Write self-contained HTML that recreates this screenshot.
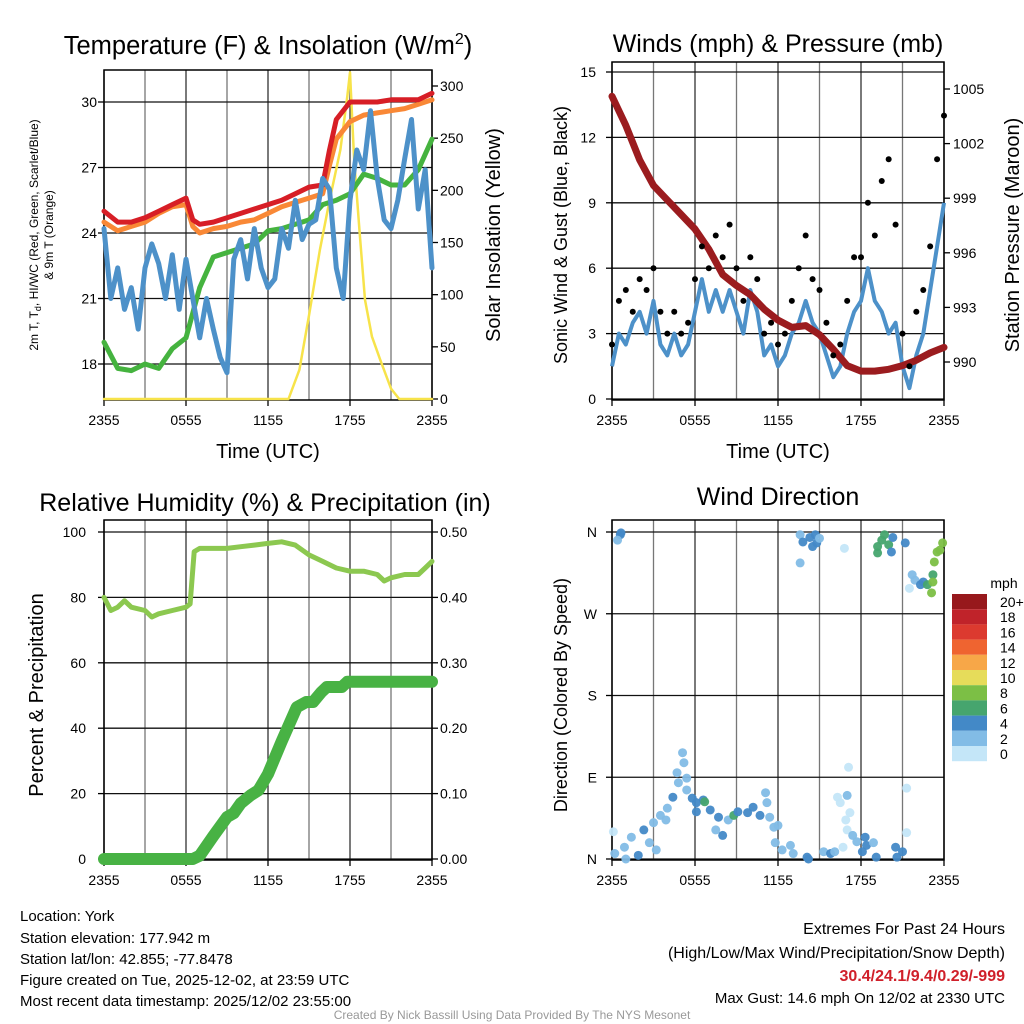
<!DOCTYPE html>
<html><head><meta charset="utf-8">
<style>
html,body{margin:0;padding:0;background:#fff;}
svg{display:block;font-family:"Liberation Sans",Arial,sans-serif;}
</style></head>
<body>
<svg id="c" width="1024" height="1024" viewBox="0 0 1024 1024" xmlns="http://www.w3.org/2000/svg">
<g id="g1"></g>
<g id="g2"></g>
<g id="g3"></g>
<g id="g4"></g>
<g id="info" font-size="15" fill="#000">
<text x="20" y="921">Location: York</text>
<text x="20" y="943">Station elevation: 177.942 m</text>
<text x="20" y="964">Station lat/lon: 42.855; -77.8478</text>
<text x="20" y="985">Figure created on Tue, 2025-12-02, at 23:59 UTC</text>
<text x="20" y="1006">Most recent data timestamp: 2025/12/02 23:55:00</text>
</g>
<g id="ext" font-size="16" text-anchor="end">
<text x="1005" y="934">Extremes For Past 24 Hours</text>
<text x="1005" y="958">(High/Low/Max Wind/Precipitation/Snow Depth)</text>
<text x="1005" y="981" fill="#d0202a" font-weight="bold">30.4/24.1/9.4/0.29/-999</text>
<text x="1005" y="1003" font-size="15">Max Gust: 14.6 mph On 12/02 at 2330 UTC</text>
</g>
<text x="512" y="1019" text-anchor="middle" font-size="12" fill="#999">Created By Nick Bassill Using Data Provided By The NYS Mesonet</text>
</svg>
<script>
// ---------- DATA ----------
const timeTicks = ["2355","0555","1155","1755","2355"];
const tTemp = [0,1,2,3,4,5,6,6.5,7,8,9,10,11,12,13,14,15,16,16.5,17,18,19,20,21,22,23,24];
const tempRed = [25.0,24.5,24.5,24.7,25.0,25.3,25.6,24.6,24.4,24.5,24.7,24.9,25.1,25.3,25.5,25.8,26.1,26.2,27.8,29.2,30.0,30.0,30.0,30.1,30.1,30.1,30.4];
const temp9m = [24.5,24.1,24.3,24.5,24.9,25.2,25.3,24.3,24.0,24.2,24.3,24.5,24.6,24.9,25.2,25.4,25.6,25.8,27.1,28.3,29.1,29.4,29.5,29.6,29.7,29.9,30.1];
const tHourly = [0,1,2,3,4,5,6,7,8,9,10,11,12,13,14,15,16,17,18,19,20,21,22,23,24];
const dewpoint = [19.0,17.8,17.7,18.0,17.8,18.7,19.2,21.5,22.9,23.1,23.3,23.5,24.1,24.2,24.4,24.6,25.3,25.5,25.8,26.7,26.5,26.2,26.2,26.9,28.3];
const tHalf = [0,0.5,1,1.5,2,2.5,3,3.5,4,4.5,5,5.5,6,6.5,7,7.5,8,8.5,9,9.5,10,10.5,11,11.5,12,12.5,13,13.5,14,14.5,15,15.5,16,16.5,17,17.5,18,18.5,19,19.5,20,20.5,21,21.5,22,22.5,23,23.5,24];
const windChill = [24.2,21.0,22.4,20.5,21.5,19.6,22.4,23.5,22.6,21.0,23.0,20.5,22.8,21.0,19.2,21.0,19.6,18.3,17.6,22.8,23.7,21.9,24.2,22.4,21.5,21.9,24.2,23.3,25.5,23.7,24.4,24.6,26.5,26.0,22.4,21.0,25.5,27.8,26.9,29.6,26.5,24.6,24.2,25.5,27.4,29.2,25.1,26.9,22.4];
const tSolar = [0,13.5,14.3,15,15.8,16.5,17.3,17.8,18,18.3,18.7,19.1,19.6,20.2,21,21.6,24];
const solar = [0,0,28,80,143,190,239,290,313,230,160,95,60,38,10,0,0];
const tempTicks = [18,21,24,27,30];
const solarTicks = [0,50,100,150,200,250,300];

const windSpeed = [1.5,3,2.5,3.5,4,3,4.5,2.5,2,3,2,2.5,4,5.5,4,5,4,5,4,3,5,4,2,2.5,1.5,2,3,3.5,4.5,3.5,3,2,1,1.5,3,4,4.5,6,4.5,4,3,3.5,1.5,0.5,2,3,5,7,9];
const windGust = [2.5,4.5,5,4,5.5,5,6,4,3,4,3,3.5,5.5,7,6,7.5,6.5,8,6,4.5,6.5,5.5,3,3.5,2.5,3,4.5,6,7.5,5.5,5,3.5,2,2.5,4.5,6.5,6.5,9,7.5,10,11,8,3,1.5,4,5,7,11,13];
const pressure = [1004.6,1003.0,1001.1,999.7,998.9,998.1,997.3,996.2,994.8,994.2,993.7,992.9,992.3,991.9,992.0,991.5,990.7,989.8,989.5,989.5,989.6,989.8,990.1,990.5,990.8];
const windTicks = [0,3,6,9,12,15];
const presTicks = [990,993,996,999,1002,1005];

const tRH = [0,0.5,1,1.5,2,3,3.5,4,5,6,6.3,6.6,7,8,9,10,11,12,13,14,15,16,17,18,19,20,20.5,21,22,23,23.5,24];
const rh = [80,76,77,79,77,76,74,75,76,77,78,94,95,95,95,95.5,96,96.5,97,96,93,91,89,88,88,87,85,86,87,87,89,91];
const tPrecip = [0,6.5,7,8,9,9.5,10,10.7,11.3,12,13,14.1,14.8,15.3,15.9,16.3,17.4,17.8,24];
const precip = [0,0,0.005,0.035,0.064,0.07,0.085,0.097,0.105,0.13,0.18,0.232,0.24,0.24,0.255,0.263,0.263,0.271,0.271];
const rhTicks = [0,20,40,60,80,100];
const precipTicks = ["0.00","0.10","0.20","0.30","0.40","0.50"];

const dirTime = [0.2,0.1,1.0,0.9,1.4,1.9,2.3,2.7,3.0,3.2,3.5,3.9,4.0,4.4,4.8,4.7,5.1,5.2,5.4,5.4,5.8,6.1,6.1,6.6,6.7,7.1,7.5,7.7,8.0,8.4,8.8,9.1,9.8,10.2,10.7,11.1,11.2,11.4,11.7,12.0,11.8,12.3,12.9,13.1,14.1,14.2,15.3,15.8,16.1,16.7,16.3,16.5,17.0,17.1,16.9,17.2,17.0,17.4,17.7,18.3,18.4,18.1,18.9,19.1,20.5,20.6,21.0,21.3,21.3,0.6,0.65,0.4,13.6,13.6,13.8,14.3,14.7,14.8,15.0,14.5,16.8,19.2,19.2,19.5,19.7,20.0,20.2,20.3,21.2,21.7,21.5,21.9,22.3,22.5,22.8,23.2,23.1,23.2,23.3,23.5,23.7,23.9];
const dirDeg = [6,30,0,13,24,4,32,18,40,10,48,43,56,68,84,95,117,106,89,76,67,62,52,65,63,54,32,46,26,43,48,52,51,57,48,73,62,46,35,37,18,10,15,6,2,0,8,6,8,13,68,62,70,101,43,51,32,26,19,24,15,8,18,2,13,2,8,29,78,357,359,351,357,326,349,354,357,348,353,344,342,344,337,351,357,346,338,354,348,313,298,307,302,305,302,313,293,305,327,338,340,348];
const dirSpeed = [3,1,2,2,2,4,4,2,2,2,2,2,2,4,2,2,2,2,2,2,4,4,4,4,6,4,2,4,4,2,6,4,4,4,4,2,2,2,2,2,2,2,2,2,4,4,2,4,2,1,1,1,2,1,1,1,1,2,2,4,4,4,2,4,4,4,4,1,1,4,4,2,2,2,4,4,4,4,2,4,1,6,6,6,6,6,4,4,4,2,1,2,4,4,6,6,8,8,8,8,8,8];
const dirTickLabels = ["N","E","S","W","N"];
const speedLabels = ["20+","18","16","14","12","10","8","6","4","2","0"];
const speedColors = ["#c4e6f8","#82bce6","#4389c7","#46a56e","#7cbf45","#e6dc5a","#f7a748","#ef6430","#dc3a2f","#c0232a","#97181c"];

// ---------- HELPERS ----------
const NS = "http://www.w3.org/2000/svg";
function mk(parent, tag, attrs, text){
  const el = document.createElementNS(NS, tag);
  for (const k in attrs) el.setAttribute(k, attrs[k]);
  if (text !== undefined) el.textContent = text;
  parent.appendChild(el);
  return el;
}
function lin(d0,d1,r0,r1){ return v => r0 + (v-d0)/(d1-d0)*(r1-r0); }
function pathD(xs, ys, xf, yf){
  return xs.map((t,i)=>(i?"L":"M")+xf(t).toFixed(1)+","+yf(ys[i]).toFixed(1)).join("");
}
function frame(g, x0, x1, y0, y1, xf, hLines){
  for (let h=0; h<=24; h+=3){
    const gl = mk(g,"line",{x1:xf(h),x2:xf(h),y1:y0,y2:y1,stroke:(h%6===0)?"#333":"#777","stroke-width":1.3});
    
    
  }
  hLines.forEach(y=>{
    const hl = mk(g,"line",{x1:x0,x2:x1,y1:y,y2:y,stroke:"#111","stroke-width":1.3});
    
    
  });
  const b = mk(g,"rect",{x:x0,y:y0,width:x1-x0,height:y1-y0,fill:"none",stroke:"#000","stroke-width":1.5});
  
  
  timeTicks.forEach((lab,i)=>{
    const x = xf(i*6);
    const tk = mk(g,"line",{x1:x,x2:x,y1:y1,y2:y1+6,stroke:"#000","stroke-width":1.3});
    
    
    const tl = mk(g,"text",{x:x,y:y1+25,"text-anchor":"middle","font-size":14},lab);
    
    
  });
}
function yLabels(g, vals, labels, yf, x, anchor, tickX, tickDir){
  vals.forEach((v,i)=>{
    const y = yf(v);
    const t = mk(g,"text",{x:x,y:y+5,"text-anchor":anchor,"font-size":14},labels[i]);
    
    
    const tk = mk(g,"line",{x1:tickX,x2:tickX+tickDir*6,y1:y,y2:y,stroke:"#000","stroke-width":1.3});
    
    
  });
}
function title(g, x, y, txt, size, rot, nm){
  const t = mk(g,"text",{x:x,y:y,"text-anchor":"middle","font-size":size, transform: rot?`rotate(-90 ${x} ${y})`:""},txt);
  
  
  return t;
}

// ---------- PANEL 1 ----------
(function(){
  const g = document.getElementById("g1");
  const x0=104,x1=432,y0=70,y1=400;
  const xf = lin(0,24,x0,x1);
  const yT = lin(30,18,102,364);
  const yS = lin(0,300,399,86);
  frame(g,x0,x1,y0,y1,xf,tempTicks.map(yT));
  yLabels(g,tempTicks,tempTicks.map(String),yT,97,"end",x0,-1);
  yLabels(g,solarTicks,solarTicks.map(String),yS,440,"start",x1,1);
  const series = [
    [tSolar,solar,yS,"#f7e34a",2.5,"solar-line"],
    [tHourly,dewpoint,yT,"#45b33f",5,"dewpoint-line"],
    [tTemp,temp9m,yT,"#f98836",5,"temp-9m-line"],
    [tTemp,tempRed,yT,"#d71e26",5,"temp-2m-line"],
    [tHalf,windChill,yT,"#4d91c9",5,"windchill-line"]
  ];
  series.forEach(s=>{
    const p = mk(g,"path",{d:pathD(s[0],s[1],xf,s[2]),fill:"none",stroke:s[3],"stroke-width":s[4],"stroke-linejoin":"round","stroke-linecap":"round"});
    
    
  });
  const tt = mk(g,"text",{x:268,y:54,"text-anchor":"middle","font-size":25.5});
  tt.innerHTML = 'Temperature (F) &amp; Insolation (W/m<tspan dy="-10" font-size="16">2</tspan><tspan dy="10">)</tspan>';
  
  
  title(g,268,458,"Time (UTC)",20,false,"x-axis-title");
  const yl = mk(g,"text",{x:38,y:235,"text-anchor":"middle","font-size":12,transform:"rotate(-90 38 235)"});
  yl.innerHTML = '2m T, T<tspan dy="3" font-size="9">d</tspan><tspan dy="-3">, HI/WC (Red, Green, Scarlet/Blue)</tspan>';
  
  
  title(g,53,235,"& 9m T (Orange)",12,true,"temperature-y-title-2");
  title(g,500,235,"Solar Insolation (Yellow)",20,true,"solar-y-title");
})();

// ---------- PANEL 2 ----------
(function(){
  const g = document.getElementById("g2");
  const x0=612,x1=944,y0=62,y1=400;
  const xf = lin(0,24,x0,x1);
  const yW = lin(0,15,399,72);
  const yP = lin(1005,990,89,362);
  frame(g,x0,x1,y0,y1,xf,windTicks.map(yW));
  yLabels(g,windTicks,windTicks.map(String),yW,596,"end",x0,-1);
  yLabels(g,presTicks,presTicks.map(String),yP,953,"start",x1,1);
  const wl = mk(g,"path",{d:pathD(tHalf,windSpeed,xf,yW),fill:"none",stroke:"#4d91c9","stroke-width":4,"stroke-linejoin":"round"});
  
  
  const pl = mk(g,"path",{d:pathD(tHourly,pressure,xf,yP),fill:"none",stroke:"#9b1c1f","stroke-width":7,"stroke-linejoin":"round","stroke-linecap":"round"});
  
  
  tHalf.forEach((t,i)=>{
    const c = mk(g,"circle",{cx:xf(t),cy:yW(windGust[i]),r:3,fill:"#000"});
    
    
  });
  title(g,778,52,"Winds (mph) & Pressure (mb)",25,false,"wind-title");
  title(g,778,458,"Time (UTC)",20,false,"x-axis-title");
  title(g,567,235,"Sonic Wind & Gust (Blue, Black)",18,true,"wind-y-title");
  title(g,1019,235,"Station Pressure (Maroon)",20,true,"pressure-y-title");
})();

// ---------- PANEL 3 ----------
(function(){
  const g = document.getElementById("g3");
  const x0=104,x1=432,y0=520,y1=860;
  const xf = lin(0,24,x0,x1);
  const yR = lin(0,100,859,532);
  const yPr = lin(0,0.5,859,532);
  frame(g,x0,x1,y0,y1,xf,rhTicks.map(yR));
  yLabels(g,rhTicks,rhTicks.map(String),yR,86,"end",x0,-1);
  yLabels(g,precipTicks.map(Number),precipTicks,yPr,440,"start",x1,1);
  const pr = mk(g,"path",{d:pathD(tPrecip,precip,xf,yPr),fill:"none",stroke:"#48b244","stroke-width":12,"stroke-linejoin":"round","stroke-linecap":"round"});
  
  
  const rl = mk(g,"path",{d:pathD(tRH,rh,xf,yR),fill:"none",stroke:"#8cc850","stroke-width":5,"stroke-linejoin":"round","stroke-linecap":"round"});
  
  
  title(g,265,511,"Relative Humidity (%) & Precipitation (in)",25,false,"humidity-title");
  title(g,43,695,"Percent & Precipitation",20,true,"rh-y-title");
})();

// ---------- PANEL 4 ----------
(function(){
  const g = document.getElementById("g4");
  const x0=612,x1=944,y0=520,y1=860;
  const xf = lin(0,24,x0,x1);
  const yD = lin(0,360,859,532);
  frame(g,x0,x1,y0,y1,xf,[0,90,180,270,360].map(yD));
  yLabels(g,[0,90,180,270,360],dirTickLabels,yD,597,"end",x0,-1);
  dirTime.forEach((t,i)=>{
    const bin = Math.min(10, Math.floor(dirSpeed[i]/2));
    const c = mk(g,"circle",{cx:xf(t),cy:yD(dirDeg[i]),r:4.5,fill:speedColors[bin],"fill-opacity":0.95});
    
    
  });
  title(g,778,505,"Wind Direction",25,false,"direction-title");
  title(g,567,695,"Direction (Colored By Speed)",18,true,"direction-y-title");
  const lg = mk(g,"g",{});
  
  
  title(lg,1004,588,"mph",14,false,"colorbar-title");
  speedLabels.forEach((lab,i)=>{
    const y = 594 + i*15.2;
    const r = mk(lg,"rect",{x:952,y:y,width:35,height:15.2,fill:speedColors[10-i]});
    
    
    const t = mk(lg,"text",{x:1000,y:y+13,"font-size":14},lab);
    
    
  });
})();
</script>
</body></html>
